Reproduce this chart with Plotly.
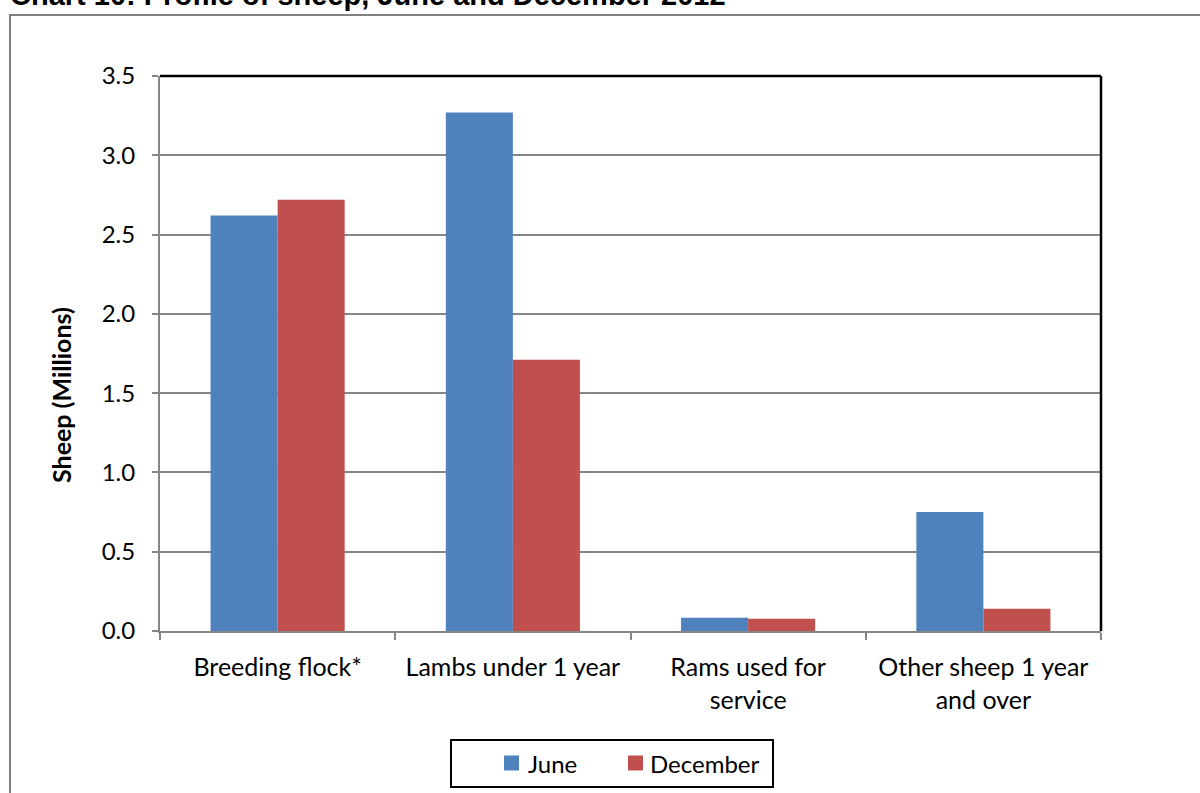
import plotly.graph_objects as go

categories = ["Breeding flock*", "Lambs under 1 year", "Rams used for<br>service", "Other sheep 1 year<br>and over"]
june = [2.62, 3.27, 0.083, 0.75]
december = [2.72, 1.71, 0.078, 0.14]
series_names = ["June", "December"]
y_ticks = [0.0, 0.5, 1.0, 1.5, 2.0, 2.5, 3.0, 3.5]
y_tick_labels = ["0.0", "0.5", "1.0", "1.5", "2.0", "2.5", "3.0", "3.5"]
title_text = "Chart 10: Profile of sheep, June and December 2012"
y_title = "Sheep (Millions)"

W, H = 1200, 793
L, R, T, B = 160, 1101, 76, 631
pw, ph = R - L, B - T

def px(x):
    return (x - L) / pw

def py(y):
    return (B - y) / ph

FONT = "Lato"
BLUE = "#4F81BD"
RED = "#C0504D"
GRID = "#868686"
colors = [BLUE, RED]

fig = go.Figure()
fig.add_trace(go.Bar(x=categories, y=june, name=series_names[0], marker=dict(color=BLUE, line=dict(width=0))))
fig.add_trace(go.Bar(x=categories, y=december, name=series_names[1], marker=dict(color=RED, line=dict(width=0))))

fig.update_layout(
    width=W, height=H,
    margin=dict(l=L, r=W - R, t=T, b=H - B, pad=0, autoexpand=False),
    paper_bgcolor="white", plot_bgcolor="white",
    barmode="group", bargap=0.43, bargroupgap=0,
    font=dict(family=FONT, size=24, color="black"),
    showlegend=False,
)

fig.update_xaxes(
    type="category", showgrid=False, showline=True, linecolor=GRID, linewidth=2,
    ticks="outside", tickson="boundaries", ticklen=7, tickwidth=2, tickcolor=GRID,
    ticklabelstandoff=13,
    tickfont=dict(family=FONT, size=25, color="black"), fixedrange=True,
)
fig.update_yaxes(
    range=[0, 3.5], tickvals=y_ticks, ticktext=y_tick_labels,
    showgrid=True, gridcolor=GRID, gridwidth=2, zeroline=False,
    showline=True, linecolor=GRID, linewidth=2,
    ticks="outside", ticklen=6, tickwidth=2, tickcolor=GRID,
    ticklabelstandoff=12,
    tickfont=dict(family=FONT, size=24, color="black"), fixedrange=True,
)

# top and right border of plot area (black)
fig.add_shape(type="line", xref="paper", yref="paper", x0=0, x1=1, y0=1, y1=1, line=dict(color="black", width=2.5))
fig.add_shape(type="line", xref="paper", yref="paper", x0=1, x1=1, y0=0, y1=1, line=dict(color="black", width=2.5))

# outer chart frame
fig.add_shape(type="rect", xref="paper", yref="paper", x0=px(10), x1=px(1215), y0=py(15), y1=py(810),
              line=dict(color="#808080", width=2), fillcolor="rgba(0,0,0,0)", layer="below")

# legend box and entries
fig.add_shape(type="rect", xref="paper", yref="paper", x0=px(451), x1=px(773), y0=py(740), y1=py(787),
              line=dict(color="black", width=2), fillcolor="white")
leg_sym_x = [504, 628]
leg_txt_x = [526, 648]
leg_cy = 763
for name, col, sx, tx in zip(series_names, colors, leg_sym_x, leg_txt_x):
    fig.add_shape(type="rect", xref="paper", yref="paper", x0=px(sx), x1=px(sx + 15),
                  y0=py(leg_cy - 7.5), y1=py(leg_cy + 7.5), line=dict(width=0), fillcolor=col)
    fig.add_annotation(text=name, xref="paper", yref="paper", x=px(tx), y=py(leg_cy),
                       xanchor="left", yanchor="middle", showarrow=False,
                       font=dict(family=FONT, size=24, color="black"))

# title (partially cut off at top, as in the source)
fig.add_annotation(text="<b>" + title_text + "</b>", xref="paper", yref="paper",
                   x=px(8), y=py(-5), xanchor="left", yanchor="middle", showarrow=False,
                   font=dict(family="Liberation Sans", size=29, color="black"))

# y axis title
fig.add_annotation(text="<b>" + y_title + "</b>", xref="paper", yref="paper",
                   x=px(61), y=py(395), xanchor="center", yanchor="middle", textangle=-90,
                   showarrow=False, font=dict(family=FONT, size=25, color="black"))

fig.write_html("out.html", config={"displayModeBar": False})
